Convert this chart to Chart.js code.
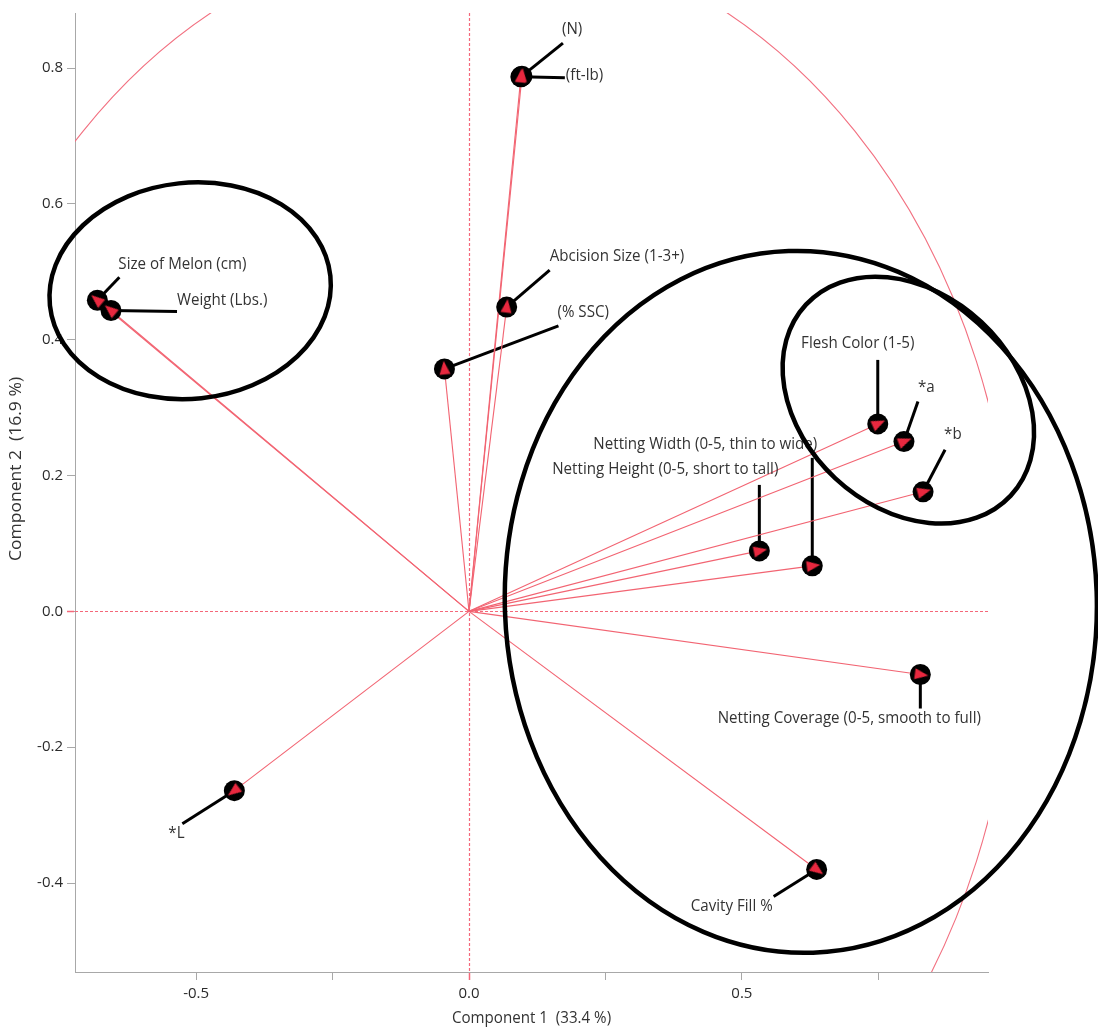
<!DOCTYPE html>
<html>
<head>
<meta charset="utf-8">
<script src="https://cdn.jsdelivr.net/npm/chart.js@4.4.1/dist/chart.umd.min.js"></script>
<style>
  html, body { margin: 0; padding: 0; background: #fff; }
  #wrap { width: 1098px; height: 1030px; position: relative; }
</style>
</head>
<body>
<div id="wrap"><canvas id="loadings"></canvas></div>
<script>
  // loadings
  var names = [
    "(N)", "(ft-lb)", "Size of Melon (cm)", "Weight (Lbs.)", "Abcision Size (1-3+)",
    "(% SSC)", "Flesh Color (1-5)", "*a", "*b",
    "Netting Height (0-5, short to tall)", "Netting Width (0-5, thin to wide)",
    "Netting Coverage (0-5, smooth to full)", "Cavity Fill %", "*L"
  ];
  var comp1 = [0.097, 0.095, -0.681, -0.656, 0.069, -0.045, 0.749, 0.797, 0.832, 0.532, 0.629, 0.827, 0.637, -0.430];
  var comp2 = [0.788, 0.787, 0.458, 0.443, 0.448, 0.357, 0.276, 0.250, 0.176, 0.089, 0.067, -0.093, -0.380, -0.264];

  var xTicks = [-0.5, -0.25, 0, 0.25, 0.5, 0.75];
  var xTickLabels = ["-0.5", "", "0.0", "", "0.5", ""];
  var yTicks = [-0.4, -0.2, 0, 0.2, 0.4, 0.6, 0.8];
  var yTickLabels = ["-0.4", "-0.2", "0.0", "0.2", "0.4", "0.6", "0.8"];
  var xTitle = "Component 1  (33.4 %)";
  var yTitle = "Component 2  (16.9 %)";

  // label placement: leader end dx, dy, text dx, dy (pixels from the point), text align
  var labelLayout = [
    [41, -33, 40, -47, "left"],
    [44, 1, 45, -2, "left"],
    [22, -23, 21, -36, "left"],
    [66, 1, 66, -10, "left"],
    [43, -37, 43, -51, "left"],
    [114, -43, 113, -57, "left"],
    [0, -64, -20, -81, "center"],
    [14, -40, 14, -54, "left"],
    [22, -42, 21, -58, "left"],
    [0, -66, 19, -82, "right"],
    [0, -108, 5, -122, "right"],
    [0, 34, -71, 44, "center"],
    [-43, 27, -44, 37, "right"],
    [-52, 33, -66, 42, "left"]
  ];

  // hand drawn black rings: centre in data units, radii in pixels, tilt in degrees
  var rings = [
    { cx: -0.511, cy: 0.472, rx: 141, ry: 108, tilt: -6 },
    { cx: 0.608, cy: 0.014, rx: 296, ry: 351, tilt: -2 },
    { cx: 0.805, cy: 0.311, rx: 140, ry: 107, tilt: 43 }
  ];

  var zeroRed = "#f4687a";
  var font = "'Open Sans', 'Noto Sans', sans-serif";
  var squeeze = 0.89; // the source text is a little narrow

  var points = names.map(function (n, i) { return { x: comp1[i], y: comp2[i] }; });

  var vectorSets = names.map(function (n, i) {
    return {
      type: "line",
      label: n,
      data: [{ x: 0, y: 0 }, { x: comp1[i], y: comp2[i] }],
      borderColor: "#f26472",
      borderWidth: 1.1,
      pointRadius: 0,
      fill: false,
      order: 3
    };
  });

  // narrow arrow head, pointing up; rotated per point
  var head = document.createElement("canvas");
  head.width = 18;
  head.height = 18;
  (function () {
    var g = head.getContext("2d");
    g.fillStyle = "#e8283f";
    g.beginPath();
    g.moveTo(9, 1);
    g.lineTo(14.5, 14.5);
    g.lineTo(3.5, 14.5);
    g.closePath();
    g.fill();
  })();

  function arrowAngle(ctx) {
    var i = ctx.dataIndex;
    var xs = ctx.chart.scales.x, ys = ctx.chart.scales.y;
    var dx = xs.getPixelForValue(comp1[i]) - xs.getPixelForValue(0);
    var dy = ys.getPixelForValue(comp2[i]) - ys.getPixelForValue(0);
    return Math.atan2(dx, -dy) * 180 / Math.PI;
  }

  var decor = {
    id: "decor",
    beforeDatasetsDraw: function (chart) {
      var c = chart.ctx, a = chart.chartArea;
      var xs = chart.scales.x, ys = chart.scales.y;
      var x0 = xs.getPixelForValue(0), y0 = ys.getPixelForValue(0);
      var sx = Math.round(x0) + 0.5, sy = Math.round(y0) + 0.5;
      // dotted zero lines with red ticks
      c.save();
      c.strokeStyle = zeroRed;
      c.lineWidth = 1.2;
      c.setLineDash([3, 2]);
      c.beginPath();
      c.moveTo(sx, a.top);
      c.lineTo(sx, a.bottom);
      c.moveTo(a.left, sy);
      c.lineTo(a.right, sy);
      c.stroke();
      c.setLineDash([]);
      c.lineWidth = 1.5;
      c.beginPath();
      c.moveTo(sx, a.bottom + 1);
      c.lineTo(sx, a.bottom + 8);
      c.moveTo(a.left - 8, sy);
      c.lineTo(a.left - 1, sy);
      c.stroke();
      c.restore();
      // unit circle
      c.save();
      c.beginPath();
      c.rect(a.left, a.top, a.right - a.left, a.bottom - a.top);
      c.clip();
      c.beginPath();
      c.ellipse(x0, y0, xs.getPixelForValue(1) - x0, y0 - ys.getPixelForValue(1), 0, 0, Math.PI * 2);
      c.strokeStyle = "#f27080";
      c.lineWidth = 1.1;
      c.stroke();
      c.restore();
      // leader lines
      c.save();
      c.strokeStyle = "#000";
      c.lineWidth = 3;
      names.forEach(function (n, i) {
        var px = xs.getPixelForValue(comp1[i]), py = ys.getPixelForValue(comp2[i]);
        var l = labelLayout[i];
        c.beginPath();
        c.moveTo(px, py);
        c.lineTo(px + l[0], py + l[1]);
        c.stroke();
      });
      c.restore();
    },
    afterDatasetsDraw: function (chart) {
      var c = chart.ctx, a = chart.chartArea;
      var xs = chart.scales.x, ys = chart.scales.y;
      c.save();
      c.fillStyle = "#333";
      c.font = "17px " + font;
      c.textBaseline = "middle";
      names.forEach(function (n, i) {
        var px = xs.getPixelForValue(comp1[i]), py = ys.getPixelForValue(comp2[i]);
        var l = labelLayout[i];
        c.save();
        c.translate(px + l[2], py + l[3]);
        c.scale(squeeze, 1);
        c.textAlign = l[4];
        c.fillText(n, 0, 0);
        c.restore();
      });
      // axis titles
      c.textAlign = "center";
      c.save();
      c.translate((a.left + a.right) / 2, 1018);
      c.scale(squeeze, 1);
      c.fillText(xTitle, 0, 0);
      c.restore();
      c.save();
      c.translate(17, 469);
      c.rotate(-Math.PI / 2);
      c.scale(1, squeeze);
      c.font = "17.5px " + font;
      c.fillText(yTitle, 0, 0);
      c.restore();
      c.restore();
    },
    afterDraw: function (chart) {
      var c = chart.ctx;
      var xs = chart.scales.x, ys = chart.scales.y;
      c.save();
      c.strokeStyle = "#000";
      c.lineWidth = 4.5;
      rings.forEach(function (r) {
        c.beginPath();
        c.ellipse(xs.getPixelForValue(r.cx), ys.getPixelForValue(r.cy), r.rx, r.ry, r.tilt * Math.PI / 180, 0, Math.PI * 2);
        c.stroke();
      });
      c.restore();
    }
  };

  new Chart(document.getElementById("loadings"), {
    type: "scatter",
    data: {
      datasets: [
        {
          data: points,
          pointStyle: head,
          pointRadius: 9,
          pointRotation: arrowAngle,
          order: 0
        },
        {
          data: points,
          pointStyle: "circle",
          pointRadius: 10.5,
          backgroundColor: "#000",
          borderWidth: 0,
          order: 1
        }
      ].concat(vectorSets)
    },
    options: {
      responsive: true,
      maintainAspectRatio: false,
      animation: false,
      layout: { padding: { top: 12, right: 110, left: 0, bottom: 0 } },
      plugins: { legend: { display: false }, tooltip: { enabled: false } },
      scales: {
        x: {
          type: "linear",
          min: -0.722,
          max: 0.951,
          afterBuildTicks: function (s) { s.ticks = xTicks.map(function (v) { return { value: v }; }); },
          afterFit: function (s) { s.height = 58; },
          ticks: {
            autoSkip: false,
            maxRotation: 0,
            padding: 5,
            color: "#2b2b2b",
            font: { size: 15, family: font },
            callback: function (v) { return xTickLabels[xTicks.indexOf(v)]; }
          },
          grid: {
            drawOnChartArea: false,
            color: "rgba(0,0,0,0)",
            tickColor: "#a8a8a8",
            tickLength: 8
          },
          border: { display: true, color: "#a8a8a8", width: 1 },
          title: { display: false }
        },
        y: {
          type: "linear",
          min: -0.531,
          max: 0.881,
          afterBuildTicks: function (s) { s.ticks = yTicks.map(function (v) { return { value: v }; }); },
          afterFit: function (s) { s.width = 75; },
          ticks: {
            autoSkip: false,
            padding: 4,
            color: "#2b2b2b",
            font: { size: 15, family: font },
            callback: function (v) { return yTickLabels[yTicks.indexOf(v)]; }
          },
          grid: {
            drawOnChartArea: false,
            color: "rgba(0,0,0,0)",
            tickColor: "#a8a8a8",
            tickLength: 8
          },
          border: { display: true, color: "#a8a8a8", width: 1 },
          title: { display: false }
        }
      }
    },
    plugins: [decor]
  });
</script>
</body>
</html>
